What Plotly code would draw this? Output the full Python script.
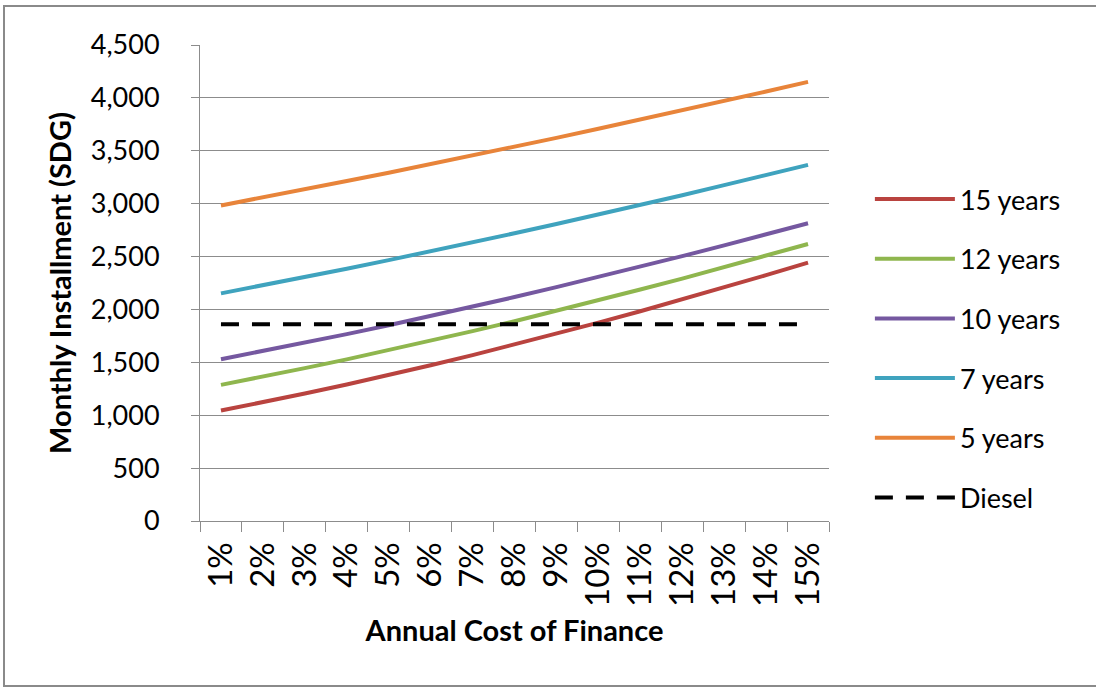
import plotly.graph_objects as go

# Annual cost of finance (x categories)
rates = ["1%", "2%", "3%", "4%", "5%", "6%", "7%", "8%", "9%", "10%",
         "11%", "12%", "13%", "14%", "15%"]

# Monthly installment (SDG) per loan term
years_15 = [1044, 1123, 1205, 1291, 1380, 1473, 1568, 1668, 1770, 1875,
            1983, 2094, 2208, 2324, 2442]
years_12 = [1287, 1364, 1445, 1528, 1614, 1703, 1795, 1889, 1986, 2085,
            2188, 2292, 2399, 2508, 2619]
years_10 = [1529, 1606, 1685, 1767, 1851, 1937, 2026, 2117, 2211, 2306,
            2404, 2504, 2606, 2709, 2815]
years_7 = [2152, 2228, 2306, 2385, 2466, 2549, 2634, 2720, 2808, 2897,
           2988, 3080, 3175, 3270, 3367]
years_5 = [2983, 3058, 3136, 3214, 3293, 3374, 3455, 3538, 3622, 3708,
           3794, 3882, 3970, 4060, 4151]
diesel = [1860] * len(rates)

series = [
    ("15 years", years_15, "#B9433F", "solid"),
    ("12 years", years_12, "#8FB64E", "solid"),
    ("10 years", years_10, "#7558A0", "solid"),
    ("7 years", years_7, "#3FA3BE", "solid"),
    ("5 years", years_5, "#E8843A", "solid"),
    ("Diesel", diesel, "#000000", "18px,13px"),
]

FONT = "Lato, 'Open Sans', sans-serif"
GRID = "#8c8c8c"

fig = go.Figure()
for i, (name, vals, color, dash) in enumerate(series):
    fig.add_trace(go.Scatter(
        x=rates, y=vals, name=name, mode="lines",
        legendgroup=f"g{i}",
        line=dict(color=color, width=4, dash=dash),
    ))

fig.update_layout(
    width=1096, height=688, autosize=False,
    margin=dict(l=200, r=267, t=45, b=167),
    paper_bgcolor="white", plot_bgcolor="white",
    font=dict(family=FONT, size=26, color="#000000"),
    showlegend=True,
    legend=dict(
        x=1.065, xanchor="left", y=0.727, yanchor="top",
        font=dict(family=FONT, size=27, color="#000000"),
        itemwidth=80, tracegroupgap=21.6, traceorder="grouped",
        bgcolor="rgba(0,0,0,0)",
    ),
    shapes=[dict(
        type="rect", xref="paper", yref="paper",
        x0=-0.3116, x1=1.45, y0=-0.3466, y1=1.0819,
        line=dict(color="#8a8a8a", width=2), layer="below",
    )],
)

fig.update_xaxes(
    type="category", range=[-0.5, 14.5],
    showline=True, linecolor=GRID, linewidth=1,
    ticks="outside", tickson="boundaries", ticklen=10, tickcolor=GRID,
    tickangle=-90, showgrid=False,
    ticklabelstandoff=7,
    tickfont=dict(family=FONT, size=33, color="#000000"),
    title=dict(text="<b>Annual Cost of Finance</b>", standoff=14,
               font=dict(family=FONT, size=29, color="#000000")),
)
fig.update_yaxes(
    range=[0, 4500], dtick=500, tickformat=",d",
    showline=True, linecolor=GRID, linewidth=1,
    showgrid=True, gridcolor=GRID, gridwidth=1,
    zeroline=False,
    ticks="outside", ticklen=8, tickcolor=GRID,
    ticklabelstandoff=26,
    tickfont=dict(family=FONT, size=27, color="#000000"),
    title=dict(text="<b>Monthly Installment (SDG)</b>", standoff=10,
               font=dict(family=FONT, size=29, color="#000000")),
)

fig.write_html("out.html")
